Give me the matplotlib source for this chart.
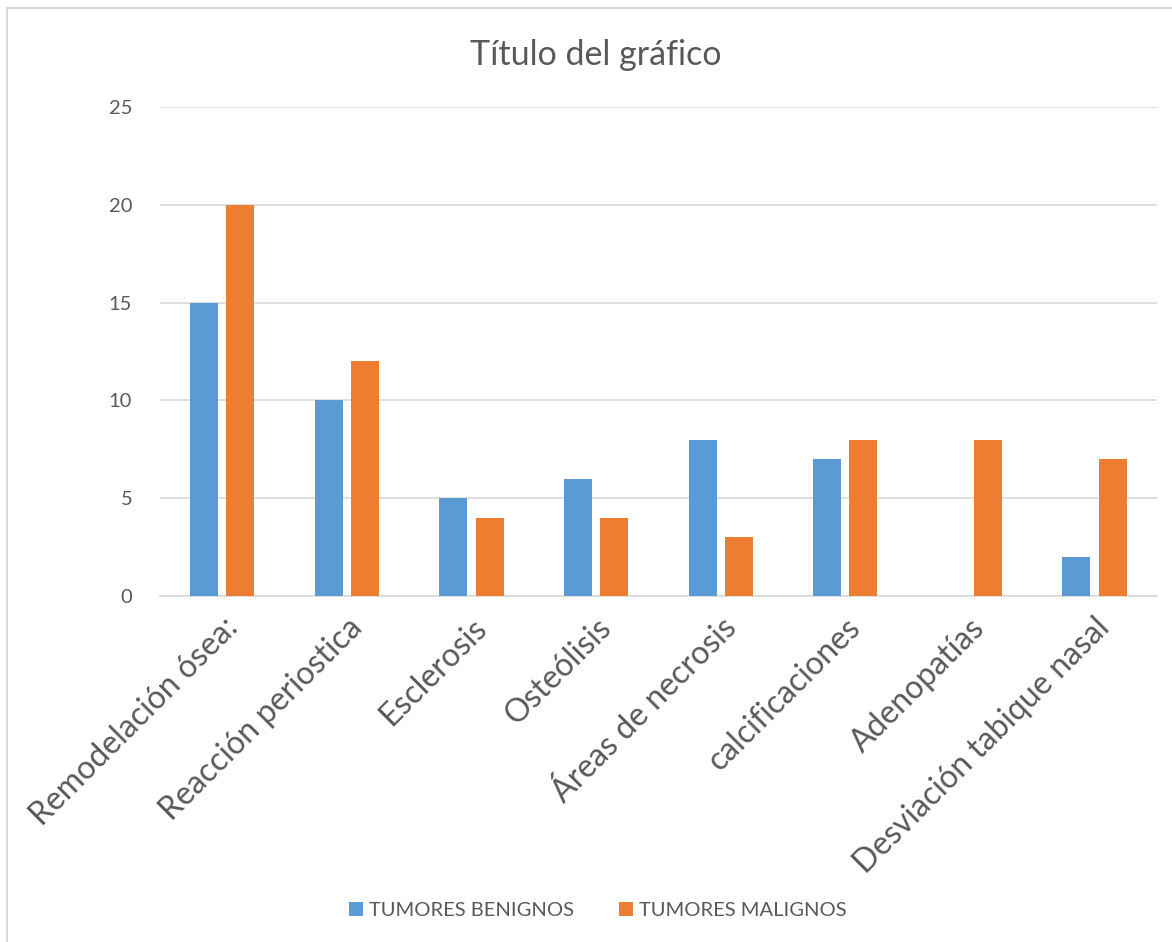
import numpy as np
import matplotlib
matplotlib.use('Agg')
import matplotlib.pyplot as plt
from matplotlib.patches import Rectangle

categories = ['Remodelación ósea:', 'Reacción periostica', 'Esclerosis', 'Osteólisis',
              'Áreas de necrosis', 'calcificaciones', 'Adenopatías', 'Desviación tabique nasal']
benignos = [15, 10, 5, 6, 8, 7, 0, 2]
malignos = [20, 12, 4, 4, 3, 8, 8, 7]
yticks = [0, 5, 10, 15, 20, 25]

plt.rcParams['font.family'] = ['Lato', 'DejaVu Sans']
txt = '#595959'

fig = plt.figure(figsize=(11.72, 9.42), dpi=100)
ax = fig.add_axes([0.1365, 0.3673, 0.8505, 0.5191])

# chart border (left/top visible)
fig.patches.append(Rectangle((7/1172, -0.1), 1.2, 1 - 8/942 + 0.1, transform=fig.transFigure,
                             fill=False, edgecolor='#d9d9d9', linewidth=1.5))

x = np.arange(len(categories))
w = 0.225
off = 0.145
ax.bar(x - off, benignos, w, color='#5b9bd5', label='TUMORES BENIGNOS', zorder=3)
ax.bar(x + off, malignos, w, color='#ed7d31', label='TUMORES MALIGNOS', zorder=3)

ax.set_xlim(-0.5, len(categories) - 0.5)
ax.set_ylim(0, 25)
ax.set_yticks(yticks)
ax.yaxis.grid(True, color='#d9d9d9', linewidth=1.2, zorder=0)
for s in ['top', 'right', 'left']:
    ax.spines[s].set_visible(False)
ax.spines['bottom'].set_color('#d9d9d9')
ax.spines['bottom'].set_linewidth(1.2)
ax.tick_params(axis='both', length=0, colors=txt)
ax.tick_params(axis='y', labelsize=14.5, pad=20)
ax.set_xticks(x)
ax.set_xticklabels(categories, rotation=45, ha='right', va='top',
                   rotation_mode='anchor', fontsize=23, color=txt)
ax.tick_params(axis='x', pad=12)

fig.text(0.508, 0.942, 'Título del gráfico', ha='center', va='center', fontsize=24.5,
         color=txt)

fig.legend(loc='center', bbox_to_anchor=(0.51, 0.033), ncol=2, frameon=False,
           fontsize=14.5, labelcolor=txt, handlelength=0.7, handleheight=0.7,
           handletextpad=0.3, columnspacing=2.2)

fig.savefig('out.png', dpi=100)
